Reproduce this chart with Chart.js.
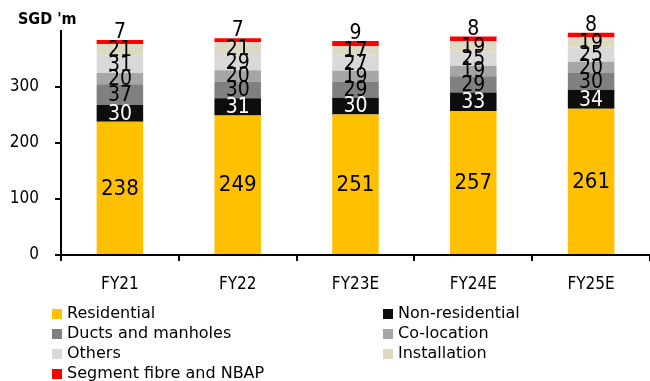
<!DOCTYPE html>
<html>
<head>
<meta charset="utf-8">
<script src="https://cdn.jsdelivr.net/npm/chart.js@4/dist/chart.umd.min.js"></script>
<style>
  html, body { margin: 0; padding: 0; background: #ffffff; }
  #wrap { width: 650px; height: 381px; position: relative; }
</style>
</head>
<body>
<div id="wrap"><canvas id="c"></canvas></div>
<script>
// Revenue breakdown, SGD million
const categories = ['FY21', 'FY22', 'FY23E', 'FY24E', 'FY25E'];
const residential    = [238, 249, 251, 257, 261];
const nonResidential = [30, 31, 30, 33, 34];
const ductsManholes  = [37, 30, 29, 29, 30];
const coLocation     = [20, 20, 19, 19, 20];
const others         = [31, 29, 27, 25, 25];
const installation   = [21, 21, 17, 19, 19];
const segmentFibre   = [7, 7, 9, 8, 8];

const seriesNames = ['Residential', 'Non-residential', 'Ducts and manholes', 'Co-location',
                     'Others', 'Installation', 'Segment fibre and NBAP'];
const seriesValues = [residential, nonResidential, ductsManholes, coLocation,
                      others, installation, segmentFibre];
const seriesColours = ['#FFC000', '#0D0D0D', '#808080', '#A6A6A6', '#D9D9D9', '#DDD9C3', '#FF0000'];
const labelColours  = ['#000000', '#FFFFFF', '#000000', '#000000', '#000000', '#000000', '#000000'];
const yTickValues = [0, 100, 200, 300];
const yMax = 400;
const unitLabel = "SGD 'm";

const FONT = '"DejaVu Sans Condensed", "DejaVu Sans", sans-serif';

// Writes each segment's value: centred in the segment, the top series above the bar
const segmentLabels = {
  id: 'segmentLabels',
  afterDatasetsDraw(chart) {
    const ctx = chart.ctx;
    const last = chart.data.datasets.length - 1;
    ctx.save();
    ctx.textAlign = 'center';
    chart.data.datasets.forEach((ds, d) => {
      const meta = chart.getDatasetMeta(d);
      meta.data.forEach((bar, i) => {
        const v = ds.data[i];
        ctx.fillStyle = labelColours[d];
        if (d === last) {
          ctx.font = '21px ' + FONT;
          ctx.textBaseline = 'alphabetic';
          ctx.fillText(String(v), bar.x, bar.y - 2);
        } else {
          ctx.font = (d === 0 ? '22px ' : '21px ') + FONT;
          ctx.textBaseline = 'middle';
          ctx.fillText(String(v), bar.x, (bar.y + bar.base) / 2 + 1);
        }
      });
    });
    ctx.restore();
  }
};

// Unit caption and the two-column key beneath the axis
const captionAndKey = {
  id: 'captionAndKey',
  afterDraw(chart) {
    const ctx = chart.ctx;
    const area = chart.chartArea;
    ctx.save();
    ctx.fillStyle = '#000';
    ctx.font = 'bold 16px ' + FONT;
    ctx.textAlign = 'left';
    ctx.textBaseline = 'middle';
    ctx.fillText(unitLabel, 18, area.top - 11);

    ctx.font = '16px "DejaVu Sans", sans-serif';
    const colX = [52, 383];
    const rowTop = chart.height - 67;
    chart.data.datasets.forEach((ds, k) => {
      const col = k % 2, row = Math.floor(k / 2);
      const x = colX[col], y = rowTop + row * 20;
      ctx.fillStyle = ds.backgroundColor;
      ctx.fillRect(x, y - 5, 10, 10);
      ctx.fillStyle = '#000';
      ctx.fillText(ds.label, x + 15, y);
    });
    ctx.restore();
  }
};

new Chart(document.getElementById('c'), {
  type: 'bar',
  data: {
    labels: categories,
    datasets: seriesNames.map((name, k) => ({
      label: name,
      data: seriesValues[k],
      backgroundColor: seriesColours[k],
      borderWidth: 0,
      categoryPercentage: 1,
      barPercentage: 0.395
    }))
  },
  options: {
    responsive: true,
    maintainAspectRatio: false,
    animation: false,
    layout: { padding: { top: 31, left: 0, right: 0, bottom: 0 } },
    plugins: {
      legend: { display: false },
      tooltip: { enabled: false }
    },
    scales: {
      x: {
        stacked: true,
        grid: { drawOnChartArea: false, drawTicks: true, tickLength: 6, color: '#000', lineWidth: 2, offset: true },
        border: { color: '#000', width: 2 },
        ticks: { color: '#000', font: { family: FONT, size: 17 }, padding: 13, maxRotation: 0 },
        afterFit(scale) { scale.height = 126; }
      },
      y: {
        stacked: true,
        min: 0,
        max: yMax,
        afterBuildTicks(scale) { scale.ticks = yTickValues.concat([yMax]).map(v => ({ value: v })); },
        grid: {
          drawOnChartArea: false, drawTicks: true, tickLength: 6, lineWidth: 2,
          color: (c) => (c.tick && c.tick.value === yMax ? 'rgba(0,0,0,0)' : '#000')
        },
        border: { color: '#000', width: 2 },
        ticks: {
          color: '#000', font: { family: FONT, size: 17 }, padding: 16,
          callback: (v) => (v === yMax ? '' : String(v))
        },
        afterFit(scale) { scale.width = 61; }
      }
    }
  },
  plugins: [segmentLabels, captionAndKey]
});
</script>
</body>
</html>
